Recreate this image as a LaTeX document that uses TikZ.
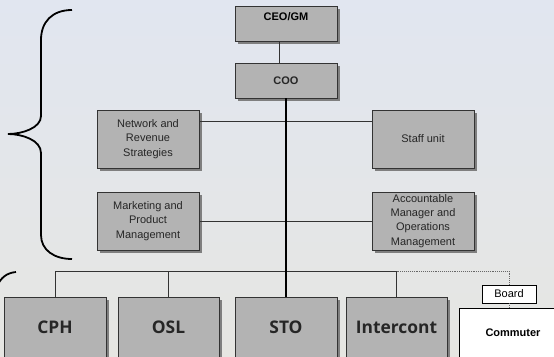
\documentclass[tikz,border=0pt]{standalone}
\usepackage{fontspec}
\setmainfont{Liberation Sans}
\newfontfamily\osans{Open Sans}
\usetikzlibrary{shadows}
\definecolor{boxfill}{HTML}{B3B3B3}
\definecolor{boxline}{HTML}{333333}
\definecolor{shadowc}{HTML}{7F7F7F}
\definecolor{bgtop}{HTML}{E1E6F0}
\definecolor{bgbot}{HTML}{E6E6E2}
\tikzset{
  gbox/.style={draw=boxline, line width=0.9pt, fill=boxfill, inner sep=0pt,
    align=center, text=black!85,
    drop shadow={shadow xshift=3pt, shadow yshift=-3pt, fill=shadowc, opacity=1}},
  smalltext/.style={font=\fontsize{11}{14.3}\selectfont},
  boldtext/.style={font=\fontsize{11}{13}\selectfont\bfseries},
  bigtext/.style={font=\fontsize{17.4}{20}\selectfont\osans\bfseries},
  wbox/.style={draw=black, line width=0.9pt, fill=white, inner sep=0pt, align=center},
  conn/.style={draw=boxline, line width=0.9pt},
  thickconn/.style={draw=black, line width=1.6pt},
  dotconn/.style={draw=black!60, line width=0.9pt, densely dotted},
  bracel/.style={draw=black, line width=1.8pt}
}
\begin{document}
\begin{tikzpicture}[x=1pt,y=-1pt]
\useasboundingbox (0,0) rectangle (554,356);
\clip (0,0) rectangle (554,356);
\shade[top color=bgtop, bottom color=bgbot] (0,0) rectangle (554,356);

% boxes
\node[gbox, minimum width=102pt, minimum height=35pt] (ceo) at (286,23.5) {};
\node[boldtext, anchor=center] (ceotext) at (286,17) {CEO/GM};
\node[gbox, boldtext, minimum width=102pt, minimum height=35pt] (coo) at (286,80.5) {COO};
\node[gbox, smalltext, minimum width=102pt, minimum height=58pt] (net) at (148,139) {Network and\\Revenue\\Strategies};
\node[gbox, smalltext, minimum width=102pt, minimum height=58pt] (staff) at (423,139) {Staff unit};
\node[gbox, smalltext, minimum width=102pt, minimum height=58pt] (mkt) at (148,221) {Marketing and\\Product\\Management};
\node[gbox, smalltext, minimum width=102pt, minimum height=58pt] (acc) at (423,221) {Accountable\\Manager and\\Operations\\Management};
\node[gbox, bigtext, minimum width=102pt, minimum height=60pt] (cph) at (55,327) {CPH};
\node[gbox, bigtext, minimum width=101pt, minimum height=60pt] (osl) at (168.5,327) {OSL};
\node[gbox, bigtext, minimum width=102pt, minimum height=60pt] (sto) at (286,327) {STO};
\node[gbox, bigtext, minimum width=101pt, minimum height=60pt] (inter) at (396.5,327) {Intercont};
\node[wbox, boldtext, minimum width=108pt, minimum height=50pt] (comm) at (513,333) {Commuter};
\node[wbox, font=\fontsize{11}{13}\selectfont, minimum width=54pt, minimum height=18pt] (board) at (509,294) {Board};

% connectors
\coordinate (nsline) at (286,121);
\coordinate (bus) at (286,271);
\path[conn] ([xshift=-7pt]ceo.south) -- ([xshift=-7pt]coo.north);
\path[conn] (net.east |- nsline) -- (staff.west |- nsline);
\path[conn] (mkt) -- (acc);
\path[conn] (cph.north) -- (cph.north |- bus) -- (inter.north |- bus) -- (inter.north);
\path[conn] (osl.north) -- (osl.north |- bus);
\path[thickconn] (coo.south) -- (sto.north);
\path[dotconn] (inter.north |- bus) -- (board.north |- bus) -- (board.north);
\path[dotconn] (board.south) -- (board.south |- comm.north);

% braces
\path[bracel] (72,10) .. controls (52,10) and (41,22) .. (41,40) -- (41,116)
  .. controls (41,128) and (22,134) .. (8,134)
  .. controls (22,134) and (41,140) .. (41,153) -- (41,235)
  .. controls (41,250) and (54,259) .. (72,259);
\path[bracel] (16,272) .. controls (6,273) and (1,278) .. (-3,286);
\end{tikzpicture}
\end{document}
